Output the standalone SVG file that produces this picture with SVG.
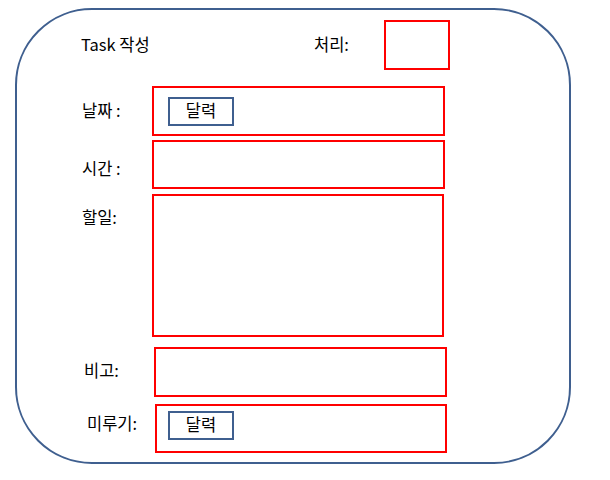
<svg xmlns="http://www.w3.org/2000/svg" width="610" height="480" viewBox="0 0 610 480">
<style>
.frame{fill:#fff;stroke:#3F5F8F;stroke-width:2}
.field{fill:none;stroke:#FF0000;stroke-width:2}
.btn{fill:none;stroke:#3F5F8F;stroke-width:2}
text{font-family:"Noto Sans CJK KR","Noto Sans",sans-serif;font-size:16.5px;fill:#000}
.c{text-anchor:middle}
</style>
<rect width="610" height="480" fill="#fff"/>
<g id="form">
<rect class="frame" x="16" y="9" width="554" height="454" rx="76" ry="76"/>
</g>
<g id="title"><text x="81" y="51">Task 작성</text></g>
<g id="status"><text x="314" y="51">처리:</text><rect class="field" x="385" y="21" width="64" height="48"/></g>
<g id="date"><text x="82" y="117">날짜 :</text><rect class="field" x="153" y="87" width="291" height="48"/>
<rect class="btn" x="169" y="98" width="64" height="27"/><text class="c" x="201" y="117">달력</text></g>
<g id="time"><text x="82" y="175">시간 :</text><rect class="field" x="153" y="141" width="291" height="47"/></g>
<g id="todo"><text x="82" y="224">할일:</text><rect class="field" x="153" y="195" width="290" height="141"/></g>
<g id="note"><text x="84" y="377">비고:</text><rect class="field" x="155" y="348" width="291" height="48"/></g>
<g id="postpone"><text x="87" y="430">미루기:</text><rect class="field" x="156" y="405" width="290" height="47"/>
<rect class="btn" x="169" y="412" width="64" height="27"/><text class="c" x="201" y="431">달력</text></g>
<g id="connectors"/>
</svg>
